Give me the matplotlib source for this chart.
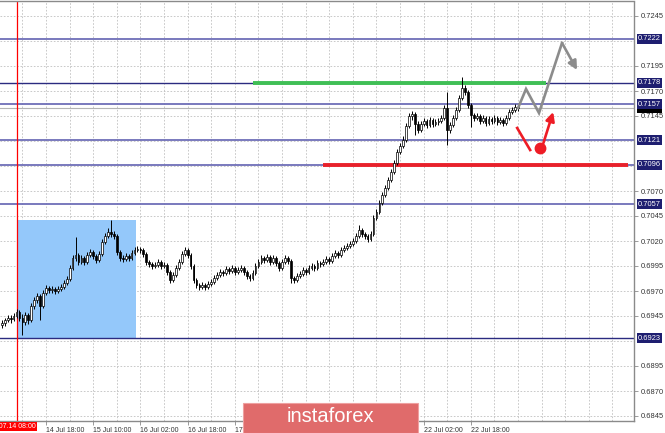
import matplotlib
matplotlib.use("Agg")
import matplotlib.pyplot as plt
from matplotlib.patches import Rectangle
import numpy as np

plt.rcParams['font.family'] = ['Liberation Sans', 'DejaVu Sans']

# H1 candles, first bar is 5 hours before 2020.07.14 08:00 (bar 0)
FIRST_BAR = -5

opens = [
    0.6936, 0.6938, 0.6941, 0.6943, 0.6942, 0.6945, 0.6949, 0.6943, 0.6939, 0.6946,
    0.6941, 0.6955, 0.6961, 0.6965, 0.6955, 0.6968, 0.6973, 0.6971, 0.6972, 0.6970,
    0.6972, 0.6974, 0.6978, 0.6982, 0.6993, 0.7003, 0.7006, 0.6999, 0.7003, 0.6999,
    0.7006, 0.7009, 0.7005, 0.7001, 0.7007, 0.7019, 0.7025, 0.7029, 0.7027, 0.7025,
    0.7009, 0.7003, 0.7002, 0.7005, 0.7003, 0.7008, 0.7011, 0.7012, 0.7011, 0.7007,
    0.6999, 0.6997, 0.6995, 0.6996, 0.6999, 0.6995, 0.6996, 0.6989, 0.6981, 0.6986,
    0.6993, 0.6999, 0.7007, 0.7011, 0.7006, 0.6995, 0.6981, 0.6976, 0.6974, 0.6976,
    0.6974, 0.6977, 0.6979, 0.6983, 0.6986, 0.6989, 0.6988, 0.6992, 0.6990, 0.6993,
    0.6989, 0.6991, 0.6993, 0.6989, 0.6985, 0.6983, 0.6988, 0.6995, 0.6999, 0.7003,
    0.7001, 0.7004, 0.6999, 0.7003, 0.6998, 0.6993, 0.6999, 0.7003, 0.7000, 0.6983,
    0.6981, 0.6985, 0.6987, 0.6991, 0.6989, 0.6993, 0.6995, 0.6993, 0.6998, 0.6997,
    0.6999, 0.7002, 0.7000, 0.7005, 0.7008, 0.7006, 0.7011, 0.7013, 0.7015, 0.7017,
    0.7020, 0.7025, 0.7031, 0.7027, 0.7025, 0.7022, 0.7027, 0.7043, 0.7049, 0.7058,
    0.7066, 0.7073, 0.7081, 0.7089, 0.7098, 0.7109, 0.7115, 0.7121, 0.7135, 0.7145,
    0.7147, 0.7137, 0.7131, 0.7137, 0.7140, 0.7136, 0.7141, 0.7137, 0.7139, 0.7140,
    0.7143, 0.7153, 0.7131, 0.7136, 0.7143, 0.7151, 0.7163, 0.7173, 0.7169, 0.7156,
    0.7146, 0.7143, 0.7145, 0.7140, 0.7143, 0.7138, 0.7142, 0.7140, 0.7143, 0.7139,
    0.7141, 0.7138, 0.7143, 0.7149, 0.7151, 0.7154,
]
highs = [
    0.6941, 0.6943, 0.6946, 0.6946, 0.6948, 0.6952, 0.6951, 0.6947, 0.6949, 0.6948,
    0.6958, 0.6964, 0.6968, 0.6967, 0.6971, 0.6976, 0.6975, 0.6975, 0.6974, 0.6975,
    0.6977, 0.6981, 0.6985, 0.6996, 0.7006, 0.7024, 0.7008, 0.7006, 0.7005, 0.7009,
    0.7012, 0.7011, 0.7007, 0.7010, 0.7022, 0.7028, 0.7033, 0.7041, 0.7030, 0.7027,
    0.7011, 0.7006, 0.7008, 0.7007, 0.7011, 0.7014, 0.7015, 0.7014, 0.7013, 0.7009,
    0.7001, 0.6999, 0.6999, 0.7002, 0.7001, 0.6999, 0.6998, 0.6991, 0.6989, 0.6996,
    0.7002, 0.7010, 0.7014, 0.7013, 0.7008, 0.6997, 0.6983, 0.6978, 0.6979, 0.6978,
    0.6980, 0.6982, 0.6986, 0.6989, 0.6992, 0.6991, 0.6995, 0.6994, 0.6996, 0.6995,
    0.6994, 0.6996, 0.6995, 0.6991, 0.6987, 0.6991, 0.6998, 0.7002, 0.7006, 0.7005,
    0.7007, 0.7006, 0.7006, 0.7005, 0.7000, 0.7002, 0.7006, 0.7005, 0.7002, 0.6985,
    0.6988, 0.6990, 0.6994, 0.6993, 0.6996, 0.6998, 0.6997, 0.7001, 0.7000, 0.7002,
    0.7005, 0.7004, 0.7008, 0.7011, 0.7010, 0.7014, 0.7016, 0.7018, 0.7020, 0.7023,
    0.7028, 0.7036, 0.7033, 0.7029, 0.7027, 0.7030, 0.7046, 0.7052, 0.7061, 0.7069,
    0.7076, 0.7084, 0.7092, 0.7101, 0.7112, 0.7118, 0.7125, 0.7138, 0.7148, 0.7150,
    0.7149, 0.7140, 0.7140, 0.7143, 0.7142, 0.7144, 0.7143, 0.7142, 0.7143, 0.7146,
    0.7156, 0.7169, 0.7139, 0.7146, 0.7154, 0.7166, 0.7184, 0.7176, 0.7171, 0.7158,
    0.7148, 0.7148, 0.7147, 0.7146, 0.7145, 0.7145, 0.7144, 0.7146, 0.7145, 0.7144,
    0.7143, 0.7146, 0.7152, 0.7154, 0.7157, 0.7156,
]
lows = [
    0.6933, 0.6935, 0.6939, 0.6938, 0.6940, 0.6943, 0.6940, 0.6926, 0.6936, 0.6937,
    0.6939, 0.6952, 0.6958, 0.6941, 0.6953, 0.6966, 0.6968, 0.6968, 0.6967, 0.6968,
    0.6970, 0.6972, 0.6976, 0.6980, 0.6991, 0.7000, 0.6996, 0.6997, 0.6996, 0.6997,
    0.7004, 0.7002, 0.6998, 0.6999, 0.7005, 0.7017, 0.7023, 0.7024, 0.7022, 0.7006,
    0.7000, 0.6999, 0.7000, 0.7000, 0.7001, 0.7006, 0.7009, 0.7008, 0.7004, 0.6996,
    0.6994, 0.6992, 0.6993, 0.6994, 0.6992, 0.6993, 0.6986, 0.6978, 0.6979, 0.6984,
    0.6991, 0.6997, 0.7005, 0.7003, 0.6992, 0.6978, 0.6973, 0.6971, 0.6972, 0.6971,
    0.6972, 0.6975, 0.6977, 0.6981, 0.6984, 0.6985, 0.6986, 0.6987, 0.6988, 0.6986,
    0.6987, 0.6989, 0.6986, 0.6982, 0.6980, 0.6981, 0.6986, 0.6993, 0.6997, 0.6998,
    0.6999, 0.6996, 0.6997, 0.6995, 0.6990, 0.6991, 0.6997, 0.6997, 0.6978, 0.6978,
    0.6979, 0.6983, 0.6985, 0.6986, 0.6987, 0.6991, 0.6990, 0.6991, 0.6994, 0.6995,
    0.6997, 0.6997, 0.6998, 0.7003, 0.7003, 0.7004, 0.7009, 0.7011, 0.7013, 0.7015,
    0.7018, 0.7023, 0.7024, 0.7022, 0.7019, 0.7020, 0.7025, 0.7041, 0.7047, 0.7056,
    0.7064, 0.7071, 0.7079, 0.7087, 0.7096, 0.7107, 0.7113, 0.7119, 0.7133, 0.7141,
    0.7126, 0.7128, 0.7129, 0.7135, 0.7133, 0.7134, 0.7134, 0.7135, 0.7136, 0.7138,
    0.7141, 0.7116, 0.7128, 0.7134, 0.7141, 0.7149, 0.7161, 0.7166, 0.7153, 0.7134,
    0.7140, 0.7141, 0.7137, 0.7138, 0.7135, 0.7136, 0.7137, 0.7138, 0.7136, 0.7137,
    0.7135, 0.7136, 0.7141, 0.7147, 0.7149, 0.7150,
]
closes = [
    0.6938, 0.6941, 0.6943, 0.6942, 0.6945, 0.6949, 0.6943, 0.6939, 0.6946, 0.6941,
    0.6955, 0.6961, 0.6965, 0.6955, 0.6968, 0.6973, 0.6971, 0.6972, 0.6970, 0.6972,
    0.6974, 0.6978, 0.6982, 0.6993, 0.7003, 0.7006, 0.6999, 0.7003, 0.6999, 0.7006,
    0.7009, 0.7005, 0.7001, 0.7007, 0.7019, 0.7025, 0.7029, 0.7027, 0.7025, 0.7009,
    0.7003, 0.7002, 0.7005, 0.7003, 0.7008, 0.7011, 0.7012, 0.7011, 0.7007, 0.6999,
    0.6997, 0.6995, 0.6996, 0.6999, 0.6995, 0.6996, 0.6989, 0.6981, 0.6986, 0.6993,
    0.6999, 0.7007, 0.7011, 0.7006, 0.6995, 0.6981, 0.6976, 0.6974, 0.6976, 0.6974,
    0.6977, 0.6979, 0.6983, 0.6986, 0.6989, 0.6988, 0.6992, 0.6990, 0.6993, 0.6989,
    0.6991, 0.6993, 0.6989, 0.6985, 0.6983, 0.6988, 0.6995, 0.6999, 0.7003, 0.7001,
    0.7004, 0.6999, 0.7003, 0.6998, 0.6993, 0.6999, 0.7003, 0.7000, 0.6983, 0.6981,
    0.6985, 0.6987, 0.6991, 0.6989, 0.6993, 0.6995, 0.6993, 0.6998, 0.6997, 0.6999,
    0.7002, 0.7000, 0.7005, 0.7008, 0.7006, 0.7011, 0.7013, 0.7015, 0.7017, 0.7020,
    0.7025, 0.7031, 0.7027, 0.7025, 0.7022, 0.7027, 0.7043, 0.7049, 0.7058, 0.7066,
    0.7073, 0.7081, 0.7089, 0.7098, 0.7109, 0.7115, 0.7121, 0.7135, 0.7145, 0.7147,
    0.7137, 0.7131, 0.7137, 0.7140, 0.7136, 0.7141, 0.7137, 0.7139, 0.7140, 0.7143,
    0.7153, 0.7131, 0.7136, 0.7143, 0.7151, 0.7163, 0.7173, 0.7169, 0.7156, 0.7146,
    0.7143, 0.7145, 0.7140, 0.7143, 0.7138, 0.7142, 0.7140, 0.7143, 0.7139, 0.7141,
    0.7138, 0.7143, 0.7149, 0.7151, 0.7154, 0.7153,
]

# horizontal levels
levels = [0.7222, 0.7178, 0.7157, 0.7121, 0.7096, 0.7057, 0.6923]
dark_levels = [0.7178, 0.6923]
bid_price = 0.7153
resistance = 0.7178          # green segment
support = 0.7096             # red segment
green_span = [80.2, 179.5]   # bars
red_span = [103.9, 207.3]

# blue box (bars / prices)
box_bars = [0.2, 40.5]
box_prices = [0.6923, 0.7041]

# drawn forecast paths (bar, price)
gray_bars = [170.0, 172.7, 177.1, 184.9, 190.0]
gray_prices = [0.7153, 0.7172, 0.7148, 0.7218, 0.7191]
red_down_bars = [169.7, 174.1]
red_down_prices = [0.7133, 0.7111]
red_dot = (177.5, 0.7113)
red_up_bars = [178.6, 181.9]
red_up_prices = [0.7118, 0.7149]

# axes labels
ytick_values = [0.7245, 0.7195, 0.7170, 0.7145, 0.7070, 0.7045, 0.7020,
                0.6995, 0.6970, 0.6945, 0.6895, 0.6870, 0.6845]
xtick_bars = [10, 26, 42, 58, 74, 90, 106, 122, 138, 154]
xtick_labels = ["14 Jul 18:00", "15 Jul 10:00", "16 Jul 02:00", "16 Jul 18:00",
                "17 Jul 10:00", "20 Jul 02:00", "20 Jul 18:00", "21 Jul 10:00",
                "22 Jul 02:00", "22 Jul 18:00"]

LAVENDER = "#6e6eb8"
NAVY = "#2b2b80"

W, H = 665, 433
fig = plt.figure(figsize=(W / 100, H / 100), dpi=100)
ax = fig.add_axes([0, 12 / H, 634 / W, 419.5 / H])
ax.set_xlim(-5.6, 209.3)
ax.set_ylim(0.6840, 0.72595)

# grid
for b in range(2, 210, 8):
    ax.axvline(b, color="#c0c0c0", lw=0.6, ls=(0, (2, 2)), zorder=0)
for v in np.arange(0.6845, 0.7260, 0.0025):
    ax.axhline(v, color="#c0c0c0", lw=0.6, ls=(0, (2, 2)), zorder=0)

ax.add_patch(Rectangle((box_bars[0], box_prices[0]), box_bars[1] - box_bars[0],
                       box_prices[1] - box_prices[0], fc="#94c8fa", ec="none", zorder=1))

for lv in levels:
    if lv in dark_levels:
        ax.axhline(lv, color=NAVY, lw=1.0, zorder=2)
    else:
        ax.axhline(lv, color=LAVENDER, lw=1.3, zorder=2)
ax.axhline(bid_price, color="#b4b4b4", lw=0.8, zorder=2)
ax.axvline(0, color="red", lw=0.9, zorder=2)

ax.plot(green_span, [resistance, resistance], color="#3fbf55", lw=2.8,
        solid_capstyle="butt", zorder=3)
ax.plot(red_span, [support, support], color="#e8212b", lw=2.8,
        solid_capstyle="butt", zorder=3)

# candles
o = np.array(opens)
h = np.array(highs)
l = np.array(lows)
c = np.array(closes)
x = np.arange(len(c)) + FIRST_BAR
ax.vlines(x, l, h, color="black", lw=0.7, zorder=4)
bull = c >= o
ax.bar(x[bull], c[bull] - o[bull], bottom=o[bull], width=0.6, color="white",
       edgecolor="black", lw=0.5, zorder=5)
ax.bar(x[~bull], o[~bull] - c[~bull], bottom=c[~bull], width=0.6, color="black",
       edgecolor="black", lw=0.5, zorder=5)

# forecast drawings
ax.plot(gray_bars[:-1], gray_prices[:-1], color="#8c8c8c", lw=1.9, zorder=6,
        solid_joinstyle="miter")
ax.annotate("", xy=(gray_bars[-1], gray_prices[-1]),
            xytext=(gray_bars[-2], gray_prices[-2]),
            arrowprops=dict(arrowstyle="-|>", color="#8c8c8c", lw=1.9,
                            mutation_scale=13, shrinkA=0, shrinkB=0), zorder=6)
ax.plot(red_down_bars, red_down_prices, color="#ee1c25", lw=1.9, zorder=6)
ax.plot([red_dot[0]], [red_dot[1]], "o", color="#ee1c25", ms=7.5, zorder=6)
ax.annotate("", xy=(red_up_bars[1], red_up_prices[1]),
            xytext=(red_up_bars[0], red_up_prices[0]),
            arrowprops=dict(arrowstyle="-|>", color="#ee1c25", lw=1.9,
                            mutation_scale=13, shrinkA=0, shrinkB=0), zorder=6)

# axes style
ax.spines["left"].set_visible(False)
for side in ["top", "right", "bottom"]:
    ax.spines[side].set_color("#8a8a8a")
    ax.spines[side].set_linewidth(1.0)

ax.yaxis.tick_right()
ax.set_yticks(ytick_values)
ax.set_yticklabels([f"{v:.4f}" for v in ytick_values])
ax.tick_params(axis="y", length=3, width=0.6, pad=2, labelsize=5.4,
               colors="#8a8a8a", labelcolor="#333333")
ax.set_xticks(xtick_bars)
ax.set_xticklabels(xtick_labels, ha="left")
ax.tick_params(axis="x", length=3, width=0.6, pad=1, labelsize=5,
               colors="#8a8a8a", labelcolor="#333333")

# level price tags on the right scale
ytr = ax.get_yaxis_transform()
ax.text(1.006, bid_price, f"{bid_price:.4f}", transform=ytr, ha="left", va="center",
        fontsize=5.4, color="#9a9a9a", clip_on=False,
        bbox=dict(boxstyle="square,pad=0.15", fc="black", ec="none"))
for lv in levels:
    ax.text(1.006, lv, f"{lv:.4f}", transform=ytr, ha="left", va="center",
            fontsize=5.4, color="white", clip_on=False,
            bbox=dict(boxstyle="square,pad=0.15", fc="#1e1e70", ec="none"))

# red date tag at the vertical line (cut at the left edge, as in MT4)
fig.text(36 / W, 1 - 426.5 / H, "2020.07.14 08:00", ha="right", va="center",
         fontsize=5, color="white",
         bbox=dict(boxstyle="square,pad=0.2", fc="red", ec="none"))

# watermark
fig.patches.append(Rectangle((243 / W, 0), 175 / W, 30 / H, transform=fig.transFigure,
                             fc="#e06b6b", ec="#eea0a0", lw=0.8, zorder=10))
fig.text(330 / W, 16 / H, "instaforex", ha="center", va="center", fontsize=14.5,
         color="white", zorder=11)

fig.savefig("out.png", dpi=100)
